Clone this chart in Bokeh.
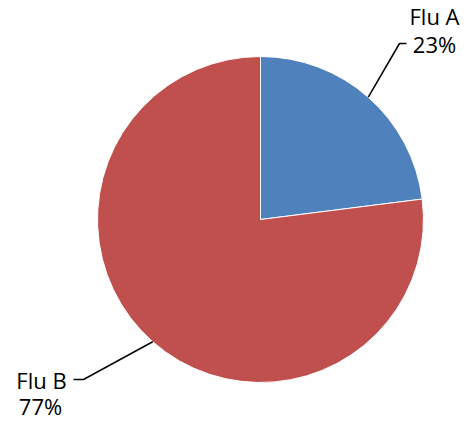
import math
from bokeh.plotting import figure
from bokeh.models import Range1d, ColumnDataSource
from bokeh.core.properties import value
from bokeh.embed import file_html
from bokeh.resources import INLINE

# ---- data ----
categories = ["Flu A", "Flu B"]
counts = [23, 77]
colors = ["#4F81BD", "#C0504D"]

# ---- layout (pixels, measured from top-left) ----
W, H = 462, 419
CX, CY, R = 260, H - 219, 163
FONT = value("Open Sans")
FS = "22px"

p = figure(width=W, height=H, output_backend="svg", toolbar_location=None,
           x_range=Range1d(0, W), y_range=Range1d(0, H),
           min_border=0, outline_line_color=None)
p.axis.visible = False
p.grid.visible = False
p.background_fill_color = "white"

total = float(sum(counts))
starts, ends, mids, pct = [], [], [], []
cum = 0.0
for c in counts:
    f0 = cum / total
    cum += c
    f1 = cum / total
    starts.append(math.pi / 2 - 2 * math.pi * f1)
    ends.append(math.pi / 2 - 2 * math.pi * f0)
    mids.append(math.pi / 2 - 2 * math.pi * (f0 + f1) / 2)
    pct.append(f"{round(c / total * 100)}%")

src = ColumnDataSource(dict(start=starts, end=ends, color=colors, cat=categories))
p.wedge(x=CX, y=CY, radius=R, start_angle="start", end_angle="end",
        direction="anticlock", fill_color="color", line_color="white",
        line_width=1, source=src)

# leader lines & labels (layout positions, y from top)
elbows = [(399, 43), (83, 379)]
line_ends = [(406, 43), (73, 379)]
name_pos = [(434, 15), (41, 379)]
pct_pos = [(434, 43), (40, 405)]

for i in range(len(counts)):
    ex = CX + R * math.cos(mids[i])
    ey = CY + R * math.sin(mids[i])
    p.line([ex, elbows[i][0], line_ends[i][0]],
           [ey, H - elbows[i][1], H - line_ends[i][1]],
           line_color="black", line_width=1.5)
    p.text(x=[name_pos[i][0]], y=[H - name_pos[i][1]], text=[categories[i]],
           text_font=FONT, text_font_size=FS, text_color="black",
           text_align="center", text_baseline="middle")
    p.text(x=[pct_pos[i][0]], y=[H - pct_pos[i][1]], text=[pct[i]],
           text_font=FONT, text_font_size=FS, text_color="black",
           text_align="center", text_baseline="middle")

open("out.html", "w").write(file_html(p, INLINE))
